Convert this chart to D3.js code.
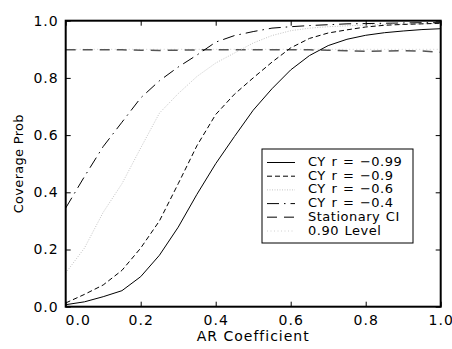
<!DOCTYPE html>
<html lang="en">
<head>
<meta charset="UTF-8">
<title>Coverage Prob</title>
<script src="https://d3js.org/d3.v7.min.js"></script>
<style>
    html, body { margin: 0; padding: 0; background: white; overflow: hidden; }
    svg { display: block; }
    svg text { font-family: "DejaVu Sans", sans-serif; fill: black; }
</style>
</head>
<body>
<svg width="452" height="349"></svg>
<script>
// AR coefficient grid (x)
const arCoef = [0, 0.05, 0.10, 0.15, 0.20, 0.25, 0.30, 0.35, 0.40, 0.45, 0.50,
                0.55, 0.60, 0.65, 0.70, 0.75, 0.80, 0.85, 0.90, 0.95, 1.00];

// coverage probabilities
const cy099 = [0.007, 0.017, 0.035, 0.056, 0.105, 0.180, 0.278, 0.393, 0.500, 0.595, 0.687,
               0.762, 0.828, 0.878, 0.913, 0.935, 0.949, 0.958, 0.964, 0.969, 0.972];
const cy09  = [0.013, 0.043, 0.076, 0.127, 0.205, 0.300, 0.430, 0.563, 0.672, 0.743, 0.800,
               0.855, 0.905, 0.938, 0.957, 0.968, 0.978, 0.984, 0.987, 0.989, 0.991];
const cy06  = [0.118, 0.205, 0.330, 0.430, 0.555, 0.677, 0.745, 0.805, 0.852, 0.887, 0.922,
               0.948, 0.965, 0.974, 0.979, 0.982, 0.985, 0.987, 0.988, 0.989, 0.990];
const cy04  = [0.345, 0.455, 0.560, 0.645, 0.730, 0.790, 0.838, 0.880, 0.925, 0.948, 0.962,
               0.974, 0.979, 0.983, 0.986, 0.989, 0.990, 0.991, 0.992, 0.993, 0.993];
const statCI = [0.898, 0.898, 0.898, 0.898, 0.897, 0.896, 0.897, 0.898, 0.898, 0.898, 0.898,
                0.898, 0.898, 0.898, 0.897, 0.895, 0.893, 0.894, 0.895, 0.894, 0.889];
const levelX = [0, 1];
const levelY = [0.90, 0.90];

const xTicks = [0, 0.2, 0.4, 0.6, 0.8, 1.0];
const yTicks = [0, 0.2, 0.4, 0.6, 0.8, 1.0];

const series = [
    { name: "CY r = \u22120.99", xs: arCoef, ys: cy099, color: "#000", width: 1, dash: null },
    { name: "CY r = \u22120.9",  xs: arCoef, ys: cy09,  color: "#000", width: 1, dash: "5,3" },
    { name: "CY r = \u22120.6",  xs: arCoef, ys: cy06,  color: "#c4c4c4", width: 1, dash: "1,1.5" },
    { name: "CY r = \u22120.4",  xs: arCoef, ys: cy04,  color: "#000", width: 1, dash: "12,5,1.5,5" },
    { name: "Stationary CI",     xs: arCoef, ys: statCI, color: "#555", width: 1.5, dash: "10,7" },
    { name: "0.90 Level",        xs: levelX, ys: levelY, color: "#d0d0d0", width: 1, dash: "1,2.5" }
];

const svg = d3.select("svg");
const width = +svg.attr("width"), height = +svg.attr("height");
const margin = { top: 20.7, right: 11.3, bottom: 42.3, left: 65.7 };
const innerWidth = width - margin.left - margin.right;
const innerHeight = height - margin.top - margin.bottom;

const xScale = d3.scaleLinear().domain([0, 1]).range([0, innerWidth]);
const yScale = d3.scaleLinear().domain([0, 1]).range([innerHeight, 0]);

const g = svg.append("g").attr("transform", `translate(${margin.left},${margin.top})`);

// curves
const line = d3.line().x(d => xScale(d[0])).y(d => yScale(d[1]));
series.slice().reverse().forEach(s => {
    g.append("path")
        .datum(s.xs.map((x, i) => [x, s.ys[i]]))
        .attr("d", line)
        .attr("fill", "none")
        .attr("stroke", s.color)
        .attr("stroke-width", s.width)
        .attr("stroke-dasharray", s.dash);
});

// axes: labels bottom/left, inward ticks on all four sides
const xAxis = g.append("g")
    .attr("transform", `translate(0,${innerHeight})`)
    .call(d3.axisBottom(xScale).tickValues(xTicks).tickFormat(d3.format(".1f")).tickSizeInner(-5).tickSizeOuter(0).tickPadding(8));
xAxis.selectAll("text").filter(d => d === 0).attr("dx", 12);

g.append("g")
    .call(d3.axisLeft(yScale).tickValues(yTicks).tickFormat(d3.format(".1f")).tickSizeInner(-5).tickSizeOuter(0).tickPadding(7));

g.append("g")
    .call(d3.axisTop(xScale).tickValues(xTicks).tickSizeInner(-5).tickSizeOuter(0).tickFormat(""));

g.append("g")
    .attr("transform", `translate(${innerWidth},0)`)
    .call(d3.axisRight(yScale).tickValues(yTicks).tickSizeInner(-5).tickSizeOuter(0).tickFormat(""));

g.selectAll(".domain").remove();
g.selectAll(".tick line").attr("stroke", "black");
g.selectAll(".tick text")
    .attr("font-family", null)
    .style("font-size", "14px")
    .style("letter-spacing", "1px");

// frame
g.append("rect")
    .attr("width", innerWidth)
    .attr("height", innerHeight)
    .attr("fill", "none")
    .attr("stroke", "black")
    .attr("stroke-width", 2);

// legend
const legend = svg.append("g").attr("transform", "translate(262,149)");
legend.append("rect")
    .attr("width", 151)
    .attr("height", 94)
    .attr("fill", "white")
    .attr("stroke", "black")
    .attr("stroke-width", 1);

series.forEach((s, i) => {
    const y = 13.5 + i * 13.7;
    legend.append("line")
        .attr("x1", 5).attr("x2", 33)
        .attr("y1", y).attr("y2", y)
        .attr("stroke", s.color)
        .attr("stroke-width", s.width)
        .attr("stroke-dasharray", s.dash);
    legend.append("text")
        .attr("x", 46)
        .attr("y", y)
        .attr("dominant-baseline", "middle")
        .style("font-size", "13px")
        .style("letter-spacing", "0.5px")
        .style("word-spacing", "1px")
        .text(s.name);
});

// axis titles
svg.append("text")
    .attr("x", margin.left + innerWidth / 2)
    .attr("y", 341)
    .attr("text-anchor", "middle")
    .style("font-size", "14px")
    .style("letter-spacing", "1px")
    .text("AR Coefficient");

svg.append("text")
    .attr("transform", "rotate(-90)")
    .attr("x", -(margin.top + innerHeight / 2))
    .attr("y", 23)
    .attr("text-anchor", "middle")
    .style("font-size", "13px")
    .style("letter-spacing", "0.3px")
    .text("Coverage Prob");
</script>
</body>
</html>
